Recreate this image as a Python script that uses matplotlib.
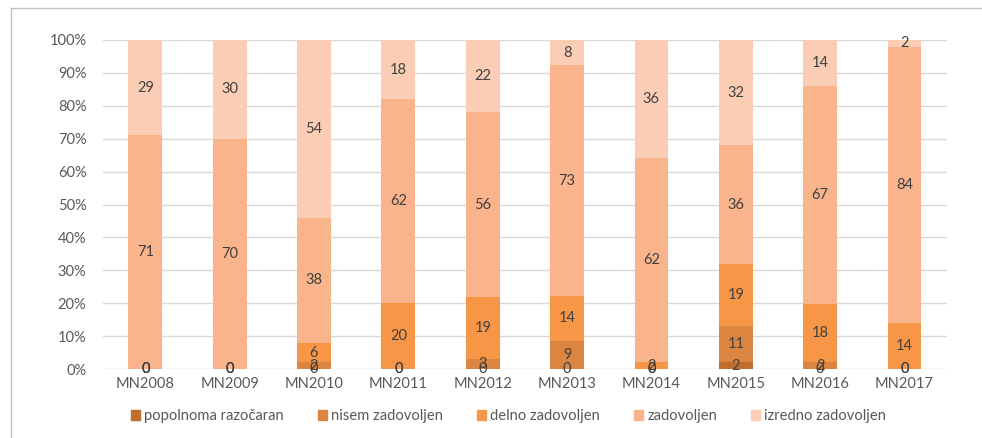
import numpy as np
import matplotlib.pyplot as plt
from matplotlib.lines import Line2D

plt.rcParams['font.family'] = ['Lato', 'DejaVu Sans']

years = ['MN2008', 'MN2009', 'MN2010', 'MN2011', 'MN2012',
         'MN2013', 'MN2014', 'MN2015', 'MN2016', 'MN2017']
series = ['popolnoma razočaran', 'nisem zadovoljen', 'delno zadovoljen',
          'zadovoljen', 'izredno zadovoljen']

popolnoma = [0, 0, 0, 0, 0, 0, 0, 2, 0, 0]
nisem = [0, 0, 2, 0, 3, 9, 0, 11, 2, 0]
delno = [0, 0, 6, 20, 19, 14, 2, 19, 18, 14]
zadovoljen = [71, 70, 38, 62, 56, 73, 62, 36, 67, 84]
izredno = [29, 30, 54, 18, 22, 8, 36, 32, 14, 2]

colors = ['#BF6E2E', '#DB8541', '#F79646', '#F9B48B', '#FCCDB5']
txt = '#595959'

data = np.array([popolnoma, nisem, delno, zadovoljen, izredno], dtype=float)
share = data / data.sum(axis=0) * 100

fig = plt.figure(figsize=(9.82, 4.38), dpi=100)
ax = fig.add_axes([0.105, 0.1575, 0.859, 0.7512])

x = np.arange(len(years))
bottom = np.zeros(len(years))
for vals, pct, name, col in zip(data, share, series, colors):
    ax.bar(x, pct, 0.4, bottom=bottom, color=col, label=name, zorder=2)
    for xi, b, p, v in zip(x, bottom, pct, vals):
        ax.text(xi, b + p / 2, f'{v:g}', ha='center', va='center',
                fontsize=10.5, color='#404040', zorder=3)
    bottom += pct

ax.set_xlim(-0.5, len(years) - 0.5)
ax.set_ylim(0, 100)
ax.set_yticks(np.arange(0, 101, 10))
ax.set_yticklabels([f'{v}%' for v in range(0, 101, 10)])
ax.set_xticks(x)
ax.set_xticklabels(years)
ax.tick_params(length=0, labelsize=10.5, colors=txt)
ax.tick_params(axis='y', pad=12)
ax.tick_params(axis='x', pad=6)
ax.grid(axis='y', color='#D9D9D9', linewidth=1, zorder=0)
for s in ax.spines.values():
    s.set_visible(False)

handles = [plt.Rectangle((0, 0), 1, 1, color=c) for c in colors]
fig.legend(handles, series, loc='center', bbox_to_anchor=(0.518, 0.05),
           ncol=5, frameon=False, fontsize=10.6, labelcolor=txt,
           handlelength=0.6, handleheight=0.6, handletextpad=0.3,
           columnspacing=2.3)

# chart frame
fig.add_artist(Line2D([0.011, 0.011], [0, 0.982], color='#BFBFBF', lw=1))
fig.add_artist(Line2D([0.011, 1], [0.982, 0.982], color='#BFBFBF', lw=1))

fig.savefig('out.png', dpi=100)
